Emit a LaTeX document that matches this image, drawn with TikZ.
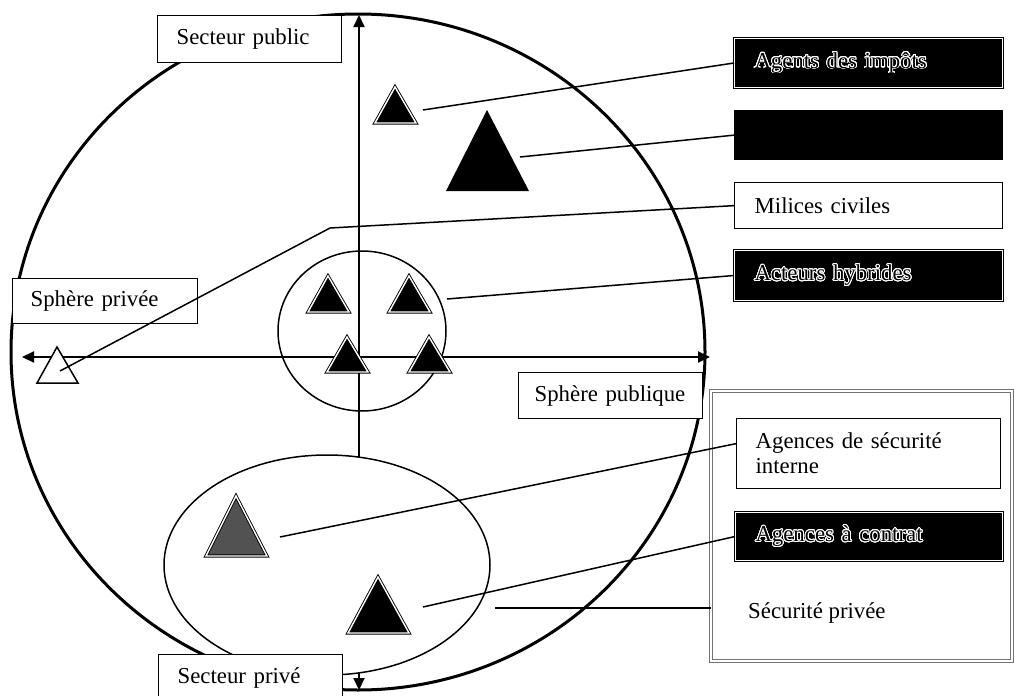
\documentclass[tikz,border=0pt]{standalone}
\usepackage{fontspec}
\setmainfont{Liberation Serif}
\usepackage{contour}
\contourlength{0.9pt}
\contournumber{24}
\usetikzlibrary{arrows.meta}
\begin{document}
\begin{tikzpicture}[x=1pt,y=-1pt,
  every node/.style={font=\fontsize{22.8}{25}\selectfont},
  box/.style={draw=black, line width=1.3pt, fill=white, anchor=north west,
     inner xsep=20pt, inner ysep=0pt, align=left},
  blackbox/.style={box, fill=black, text=black},
  dblbox/.style={blackbox, draw=black, double=white, double distance=1.2pt, line width=1pt},
  conn/.style={line width=1.5pt},
  axis/.style={line width=2pt, {Triangle[length=12pt,width=11pt]}-{Triangle[length=12pt,width=11pt]}},
  tri/.style={draw=black, line width=0.9pt, double=white, double distance=1.4pt, fill=black, line join=miter},
  wtri/.style={draw=black, line width=1.5pt, fill=white, line join=miter},
  ring/.style={line width=1.5pt}
]
\useasboundingbox (0,0) rectangle (1015,696);

% big circle
\draw[line width=3pt] (358,352) ellipse [x radius=347, y radius=338];

% axes
\coordinate (ytop) at (359,15);
\coordinate (ybot) at (359,690);
\coordinate (xleft) at (22,357);
\coordinate (xright) at (710,357);
\draw[axis] (ybot) -- (ytop);
\draw[axis] (xleft) -- (xright);

% lower ellipse (private sector)
\draw[ring, fill=white] (327,565) ellipse [x radius=163, y radius=110];
% central circle (hybrid actors)
\draw[ring] (362,331) ellipse [x radius=84, y radius=80];

% triangles
\draw[tri] (375,123) -- (395,87) -- (416,123) -- cycle;
\fill[black] (446,191) -- (487,110) -- (529,191) -- cycle;
\draw[tri] (308,312) -- (328,276) -- (349,312) -- cycle;
\draw[tri] (389,312) -- (409,276) -- (430,312) -- cycle;
\draw[tri] (327,372) -- (347,337) -- (368,372) -- cycle;
\draw[tri] (409,372) -- (429,337) -- (450,372) -- cycle;
\draw[wtri] (37,383) -- (57,347) -- (78,383) -- cycle;
\draw[tri, fill=black!68] (206,556) -- (236,496) -- (267,556) -- cycle;
\draw[tri] (348,633) -- (378,577) -- (409,633) -- cycle;

% boxes
\node[box, minimum width=184pt, minimum height=47pt, text width=146pt, inner xsep=19pt] (secpub) at (157,15) {Secteur public};
\node[box, minimum width=185pt, minimum height=45pt, text width=149pt, inner xsep=18pt] (sphpriv) at (12,278) {Sphère privée};
\node[box, minimum width=184pt, minimum height=46pt, text width=152pt, inner xsep=16pt] (sphpub) at (518,372) {Sphère publique};
\node[box, minimum width=184pt, minimum height=46pt, text width=146pt, inner xsep=19pt] (secprive) at (158,654) {Secteur privé};

\node[dblbox, minimum width=268pt, minimum height=49pt, text width=228pt] (agents) at (734,38) {\contour{white}{Agents des impôts}};
\node[blackbox, minimum width=268pt, minimum height=49pt, text width=228pt] (hidden) at (734,110) {};
\node[box, minimum width=268pt, minimum height=46pt, text width=228pt] (milices) at (734,182) {Milices civiles};
\node[dblbox, minimum width=268pt, minimum height=50pt, text width=228pt] (hybrides) at (734,250) {\contour{white}{Acteurs hybrides}};

\draw[draw=black!55, line width=0.6pt, double=white, double distance=2.5pt] (711,391) rectangle (1012,661);
\node[draw=none, anchor=north west, minimum width=301pt, minimum height=270pt, inner sep=0pt] (secpriv) at (711,391) {};
\node[anchor=base west, inner sep=0pt] (sptext) at (748,618) {Sécurité privée};

\node[box, minimum width=264pt, minimum height=70pt, text width=226pt, inner xsep=19pt] (interne) at (736,418) {Agences de sécurité\\interne};
\node[dblbox, minimum width=267pt, minimum height=48pt, text width=227pt] (contrat) at (735,512) {\contour{white}{Agences à contrat}};

% connectors
\coordinate (c1) at (423,110);
\coordinate (c2) at (520,157);
\coordinate (c3) at (330,228);
\coordinate (c3b) at (60,371);
\coordinate (c4) at (447,299);
\coordinate (c5) at (280,537);
\coordinate (c6) at (423,607);
\coordinate (c7) at (495,608);
\draw[conn] (c1) -- (agents.west);
\draw[conn] (c2) -- (hidden.west);
\draw[conn] (milices.west) -- (c3) -- (c3b);
\draw[conn] (c4) -- (hybrides.west);
\draw[conn] (c5) -- ([yshift=10pt]interne.west);
\draw[conn] (c6) -- (contrat.west);
\draw[conn] (c7) -- (c7 -| secpriv.west);
\end{tikzpicture}
\end{document}
